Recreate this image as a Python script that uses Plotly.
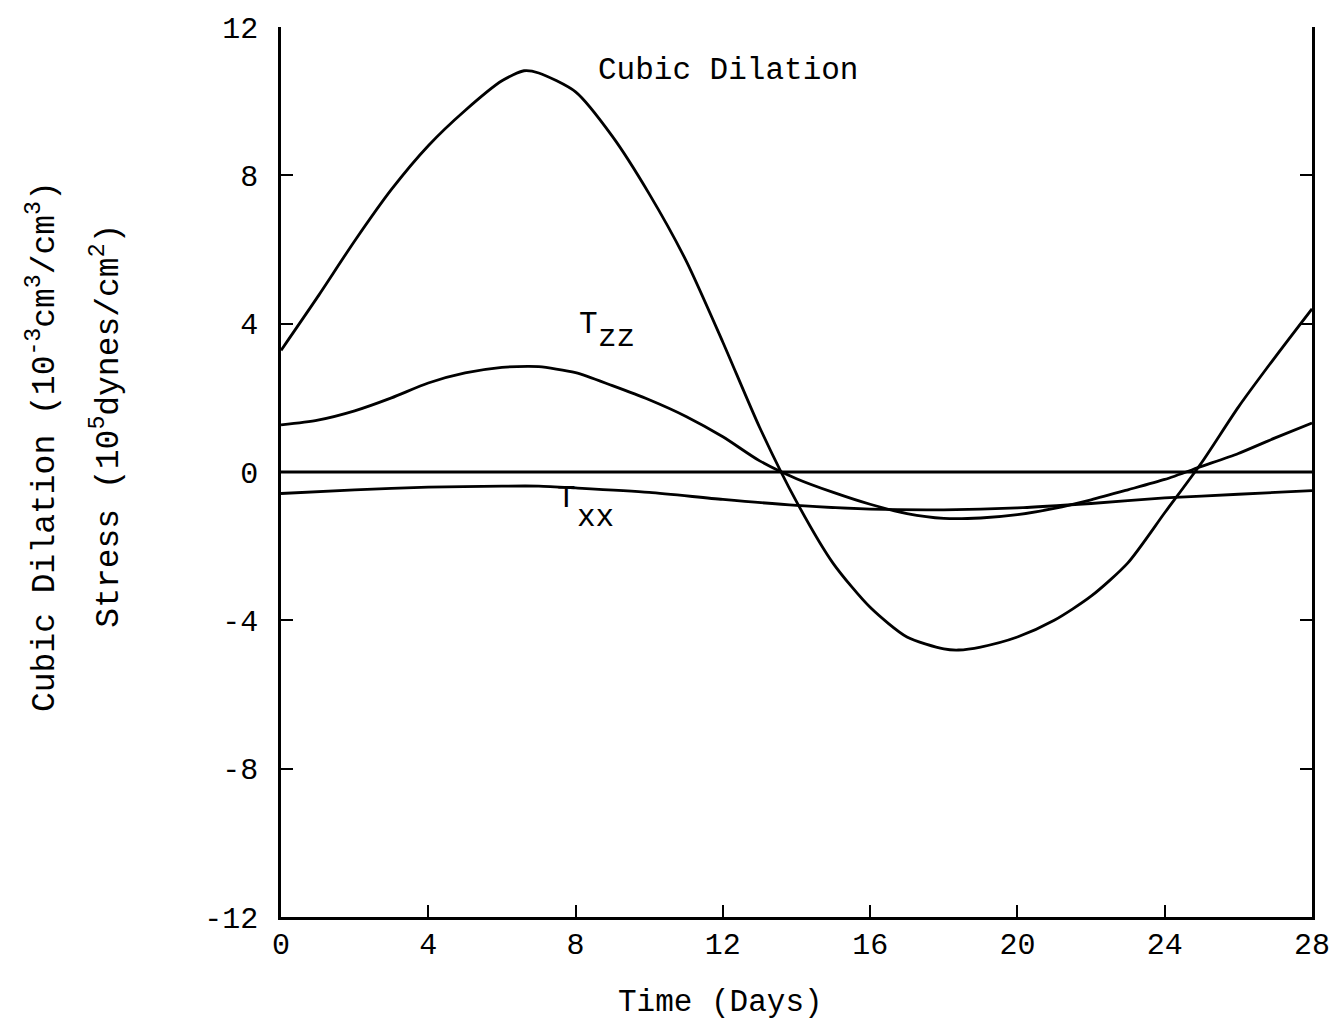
import plotly.graph_objects as go

# ---- data ----
dil_days = [0, 1, 2, 3, 4, 5, 6, 6.6, 7, 8, 9, 10, 11, 12, 13, 14, 15, 16, 17, 18, 18.4,
            19, 20, 21, 22, 23, 24, 25, 26, 27, 28]
dil_vals = [3.28, 4.73, 6.23, 7.62, 8.8, 9.75, 10.55, 10.82, 10.76, 10.25, 9.05, 7.5, 5.7,
            3.5, 1.2, -0.8, -2.47, -3.65, -4.45, -4.77, -4.8, -4.72, -4.45, -4.0, -3.35,
            -2.45, -1.1, 0.25, 1.75, 3.1, 4.4]

tzz_days = [0, 1, 2, 3, 4, 5, 6, 6.7, 7, 8, 9, 10, 11, 12, 13, 14, 15, 16, 17, 18, 19,
            20, 21, 22, 23, 24, 25, 26, 27, 28]
tzz_vals = [1.27, 1.4, 1.65, 2.0, 2.4, 2.67, 2.82, 2.85, 2.84, 2.68, 2.33, 1.95, 1.5,
            0.95, 0.3, -0.18, -0.55, -0.87, -1.12, -1.25, -1.24, -1.15, -0.98, -0.75,
            -0.48, -0.2, 0.15, 0.5, 0.92, 1.32]

txx_days = [0, 2, 4, 6, 7, 8, 10, 12, 14, 16, 18, 20, 22, 24, 26, 28]
txx_vals = [-0.58, -0.48, -0.41, -0.38, -0.38, -0.43, -0.55, -0.74, -0.9, -1.0, -1.02,
            -0.97, -0.85, -0.7, -0.6, -0.5]

zero_days = [0, 28]
zero_vals = [0, 0]

x_ticks = [0, 4, 8, 12, 16, 20, 24, 28]
y_ticks = [-12, -8, -4, 0, 4, 8, 12]

FONT = "Liberation Mono, Courier New, monospace"
LW = 2.8
TXT = 31

fig = go.Figure()
for xs, ys in [(dil_days, dil_vals), (tzz_days, tzz_vals), (txx_days, txx_vals), (zero_days, zero_vals)]:
    fig.add_trace(go.Scatter(x=xs, y=ys, mode="lines",
                             line=dict(color="black", width=LW, shape="spline", smoothing=0.7),
                             showlegend=False, hoverinfo="skip"))
# invisible trace for right axis
fig.add_trace(go.Scatter(x=[0], y=[0], yaxis="y2", mode="markers",
                         marker=dict(opacity=0), showlegend=False, hoverinfo="skip"))

L, R, T, B = 281, 1320, 21, 917
W, H = 1342, 1027

def px(xp):
    return (xp - L) / (R - L)

def py(yp):
    return (B - yp) / (B - T)

fig.update_layout(
    width=W, height=H,
    margin=dict(l=L, r=W - R, t=T, b=H - B),
    paper_bgcolor="white", plot_bgcolor="white",
    font=dict(family=FONT, color="black", size=TXT),
    xaxis=dict(range=[0, 28], tickvals=x_ticks, ticktext=[str(v) for v in x_ticks],
               ticks="inside", ticklen=12, tickwidth=2, tickcolor="black",
               showline=True, linecolor="black", linewidth=2.5,
               showgrid=False, zeroline=False, mirror=False,
               tickfont=dict(size=30, family=FONT), ticklabelstandoff=-2),
    yaxis=dict(range=[-12, 12], tickvals=y_ticks, ticktext=[str(v) for v in y_ticks],
               ticks="inside", ticklen=12, tickwidth=2, tickcolor="black",
               showline=True, linecolor="black", linewidth=2.5,
               showgrid=False, zeroline=False,
               tickfont=dict(size=30, family=FONT), ticklabelstandoff=14),
    yaxis2=dict(range=[-12, 12], tickvals=y_ticks, overlaying="y", side="right",
                ticks="inside", ticklen=12, tickwidth=2, tickcolor="black",
                showline=True, linecolor="black", linewidth=2.5,
                showgrid=False, zeroline=False, showticklabels=False),
)

def note(x, y, text, ref="data", size=TXT, angle=0):
    d = dict(text=text, showarrow=False, xanchor="center", yanchor="middle",
             font=dict(size=size, family=FONT), textangle=angle)
    if ref == "data":
        d.update(x=x, y=y, xref="x", yref="y")
    else:
        d.update(x=px(x), y=py(y), xref="paper", yref="paper")
    return d

ann = [
    note(12.15, 10.82, "Cubic Dilation"),
    note(8.36, 3.98, "T"),
    note(9.12, 3.62, "zz"),
    note(7.75, -0.72, "T"),
    note(8.55, -1.22, "xx"),
    note(724, 1003, "Time (Days)", ref="paper"),
    note(40, 443, "Cubic Dilation (10<sup>-3</sup>cm<sup>3</sup>/cm<sup>3</sup>)", ref="paper", size=33, angle=-90),
    note(105, 422, "Stress (10<sup>5</sup>dynes/cm<sup>2</sup>)", ref="paper", size=33, angle=-90),
]
fig.update_layout(annotations=ann)

fig.write_html("out.html")
